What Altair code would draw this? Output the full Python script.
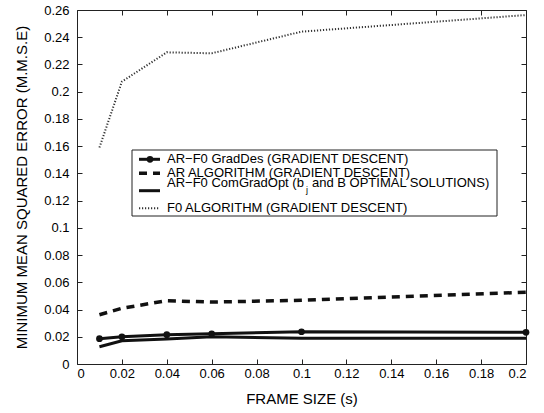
import altair as alt
import pandas as pd

frame_size = [0.01, 0.02, 0.04, 0.06, 0.1, 0.2]
ar_f0_graddes = [0.0186, 0.0200, 0.0215, 0.0222, 0.0237, 0.0233]
ar_algorithm = [0.0362, 0.0409, 0.0465, 0.0455, 0.0468, 0.0527]
ar_f0_comgradopt = [0.0127, 0.0171, 0.0184, 0.0200, 0.0189, 0.0189]
f0_algorithm = [0.159, 0.2074, 0.2289, 0.2282, 0.2441, 0.2563]

x_ticks = [0, 0.02, 0.04, 0.06, 0.08, 0.1, 0.12, 0.14, 0.16, 0.18, 0.2]
y_ticks = [0, 0.02, 0.04, 0.06, 0.08, 0.1, 0.12, 0.14, 0.16, 0.18, 0.2, 0.22, 0.24, 0.26]

FONT = "Liberation Sans"

def df(vals):
    return pd.DataFrame({"x": frame_size, "y": vals})

xs = alt.Scale(domain=[0, 0.2], nice=False, zero=False)
ys = alt.Scale(domain=[0, 0.26], nice=False, zero=False)

common_axis = dict(offset=-5, tickSize=5, domain=False, grid=False, tickColor="#222",
                   labelFont=FONT, labelFontSize=13, labelColor="black",
                   titleFont=FONT, titleFontSize=15, titleFontWeight="normal", titleColor="black",
                   format="~g")

x_bottom = alt.Axis(orient="bottom", values=x_ticks, title="FRAME SIZE (s)", labelPadding=3,
                    titlePadding=11, **common_axis)
y_left = alt.Axis(orient="left", values=y_ticks, title="MINIMUM MEAN SQUARED ERROR (M.M.S.E)",
                  labelPadding=8, titlePadding=14, **common_axis)
x_top = alt.Axis(orient="top", values=x_ticks, title=None, labels=False, offset=-5, tickSize=5,
                 domain=False, grid=False, tickColor="#222")
y_right = alt.Axis(orient="right", values=y_ticks, title=None, labels=False, offset=-5, tickSize=5,
                   domain=False, grid=False, tickColor="#222")

f0_layer = alt.Chart(df(f0_algorithm)).mark_line(
    color="#333", strokeWidth=2, strokeDash=[1.2, 1.8]
).encode(x=alt.X("x:Q", scale=xs, axis=x_top), y=alt.Y("y:Q", scale=ys, axis=y_right))

ar_layer = alt.Chart(df(ar_algorithm)).mark_line(
    color="#111", strokeWidth=3.5, strokeDash=[8, 6]
).encode(x=alt.X("x:Q", scale=xs, axis=None), y=alt.Y("y:Q", scale=ys, axis=None))

opt_layer = alt.Chart(df(ar_f0_comgradopt)).mark_line(
    color="#111", strokeWidth=3
).encode(x=alt.X("x:Q", scale=xs, axis=None), y=alt.Y("y:Q", scale=ys, axis=None))

gd_layer = alt.Chart(df(ar_f0_graddes)).mark_line(
    color="#111", strokeWidth=3, point=alt.OverlayMarkDef(filled=True, size=45, color="#111")
).encode(x=alt.X("x:Q", scale=xs, axis=x_bottom), y=alt.Y("y:Q", scale=ys, axis=y_left))

# legend (manual)
one = pd.DataFrame({"k": [0]})
legend_box = alt.Chart(one).mark_rect(fill="white", stroke="#222", strokeWidth=1).encode(
    x=alt.value(55), x2=alt.value(420), y=alt.value(140), y2=alt.value(206))

legend_labels = ["AR\u2212F0 GradDes (GRADIENT DESCENT)", "AR ALGORITHM (GRADIENT DESCENT)",
                 "AR\u2212F0 ComGradOpt (b", "F0 ALGORITHM (GRADIENT DESCENT)"]

leg = [legend_box]
line_y = [149.3, 163.3, 180.7, 198.3]
text_y = [149.3, 163.3, 172.7, 198.3]
styles = [dict(color="#111", strokeWidth=3), dict(color="#111", strokeWidth=3.5, strokeDash=[8, 6]),
          dict(color="#111", strokeWidth=3), dict(color="#333", strokeWidth=2, strokeDash=[1.2, 1.8])]
for i in range(4):
    leg.append(alt.Chart(one).mark_rule(**styles[i]).encode(
        x=alt.value(62), x2=alt.value(83), y=alt.value(line_y[i])))
    leg.append(alt.Chart(pd.DataFrame({"t": [legend_labels[i]]})).mark_text(
        align="left", baseline="middle", font=FONT, fontSize=13, color="black").encode(
        x=alt.value(90), y=alt.value(text_y[i]), text="t:N"))
leg.append(alt.Chart(one).mark_point(filled=True, size=45, color="#111", opacity=1).encode(
    x=alt.value(73), y=alt.value(149.3)))
leg.append(alt.Chart(pd.DataFrame({"t": ["j"]})).mark_text(
    align="left", baseline="middle", font=FONT, fontSize=9, color="black").encode(
    x=alt.value(229), y=alt.value(180), text="t:N"))
leg.append(alt.Chart(pd.DataFrame({"t": ["and B OPTIMAL SOLUTIONS)"]})).mark_text(
    align="left", baseline="middle", font=FONT, fontSize=13, color="black").encode(
    x=alt.value(235), y=alt.value(172.7), text="t:N"))

chart = alt.layer(f0_layer, ar_layer, opt_layer, gd_layer, *leg).resolve_axis(
    x="independent", y="independent"
).properties(
    width=449, height=354,
    autosize=alt.AutoSizeParams(type="none"),
    padding={"left": 77, "top": 10, "right": 18, "bottom": 49},
    background="white",
).configure_view(stroke="#222", strokeWidth=1)

chart.save("out.html", embed_options={"renderer": "svg", "actions": False})
